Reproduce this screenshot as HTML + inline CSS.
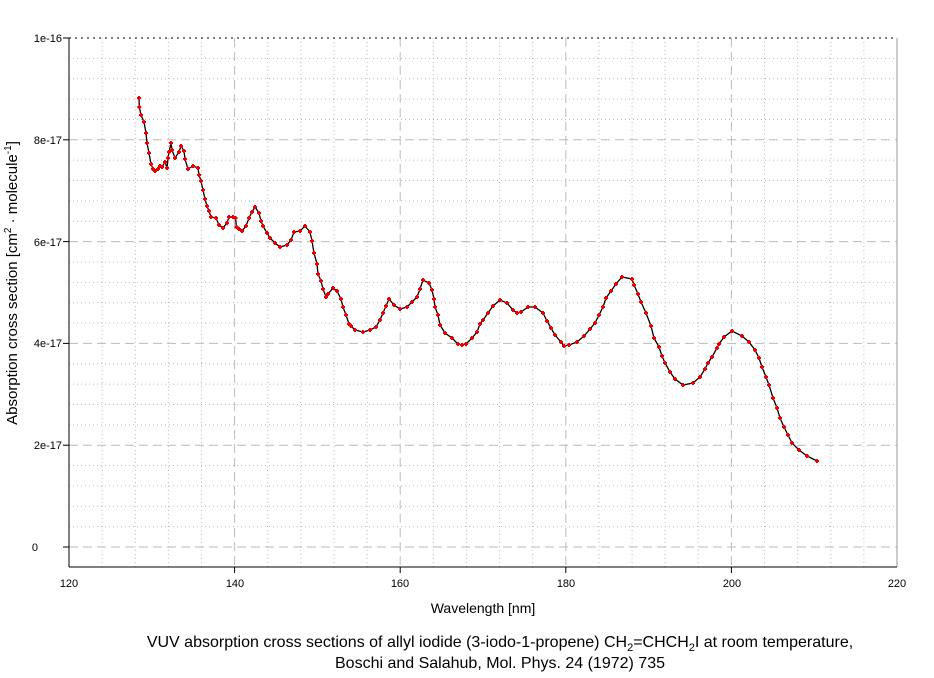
<!DOCTYPE html>
<html><head><meta charset="utf-8"><style>
body{margin:0;background:#fff;width:934px;height:673px;overflow:hidden}
svg text{font-family:"Liberation Sans",Arial,sans-serif;fill:#000}
</style></head><body>
<svg width="934" height="673" xmlns="http://www.w3.org/2000/svg">
<g id="grid"></g>
<line x1="69" y1="38" x2="897" y2="38" stroke="#000" stroke-dasharray="2,4"/>
<line x1="897" y1="38" x2="897" y2="567" stroke="#999"/>
<line x1="69" y1="38" x2="69" y2="567" stroke="#000"/>
<line x1="69" y1="567" x2="897" y2="567" stroke="#000"/>
<g id="ticks" stroke="#000"></g>
<g font-size="11" text-anchor="end">
<text x="62" y="42">1e-16</text><text x="62" y="144">8e-17</text><text x="62" y="246">6e-17</text>
<text x="62" y="347">4e-17</text><text x="62" y="449">2e-17</text><text x="38" y="551">0</text>
</g>
<g font-size="11" text-anchor="middle">
<text x="69" y="587">120</text><text x="235" y="587">140</text><text x="400" y="587">160</text>
<text x="566" y="587">180</text><text x="732" y="587">200</text><text x="897" y="587">220</text>
<text x="483" y="613" font-size="14">Wavelength [nm]</text>
<text x="500" y="647" font-size="16">VUV absorption cross sections of allyl iodide (3-iodo-1-propene) CH<tspan font-size="11" dy="4">2</tspan><tspan dy="-4">=CHCH</tspan><tspan font-size="11" dy="4">2</tspan><tspan dy="-4">I at room temperature,</tspan></text>
<text x="500" y="668" font-size="16">Boschi and Salahub, Mol. Phys. 24 (1972) 735</text>
</g>
<text font-size="15" text-anchor="middle" transform="translate(17,283) rotate(-90)">Absorption cross section [cm<tspan font-size="10" dy="-6">2</tspan><tspan dy="6"> · molecule</tspan><tspan font-size="10" dy="-6">-1</tspan><tspan dy="6">]</tspan></text>
<polyline id="line" fill="none" stroke="#000" stroke-width="1.3"/>
<g id="marks" fill="#e00"></g>
</svg>
<script>
var ns="http://www.w3.org/2000/svg",g=document.getElementById('grid'),t=document.getElementById('ticks');
function L(p,x1,y1,x2,y2,s,d){var l=document.createElementNS(ns,'line');l.setAttribute('x1',x1);l.setAttribute('y1',y1);l.setAttribute('x2',x2);l.setAttribute('y2',y2);l.setAttribute('stroke',s);if(d)l.setAttribute('stroke-dasharray',d);p.appendChild(l);}
for(var i=1;i<25;i++){var x=69+i*828/25;var maj=i%5==0;L(g,x,38,x,567,'#bbb',maj?'9,5':'1,3');if(maj)L(t,x,567,x,573,'#000');}
for(var i=0;i<25;i++){var y=547-i*509/25;var maj=i%5==0;L(g,69,y,897,y,'#bbb',maj?'9,5':'1,3');if(maj)L(t,63,y,69,y,'#000');}
L(t,63,38,69,38,'#000');
var P=[[139,98],[139.3,107],[141,115],[144,122],[146,133],[147,143],[149,153],[151,164],[153,169],[155,171],[158,169],[160,166],[162,167],[165,162],[167,168],[168,158],[169,152],[171,143],[172,150],[175,158],[179,152],[181,146],[184,151],[185,159],[188,169],[193,166],[198,168],[199,175],[201,181],[203,190],[205,199],[207,206],[209,211],[211,217],[216,218],[219,225],[223,228],[227,223],[229,217],[233,217],[235.5,218],[236.5,227],[239,229],[242,231],[246,226],[249,218],[252,212],[255,207],[259,213],[261,221],[263,226],[267,233],[270,238],[275,243],[280,247],[287,245],[291,240],[294,232],[300,231],[305,226],[310,232],[312,241],[314,253],[317,264],[318,274],[321,281],[323,289],[326,297],[328,294],[333,288],[337,291],[341,299],[343,307],[346,315],[349,324],[351,326],[355,330],[363,332],[370,330],[376,327],[380,320],[383,313],[386,306],[389,299],[394,305],[400,309],[407,307],[412,302],[417,297],[420,289],[423,280],[429,283],[432,290],[434,299],[435,307],[438,315],[440,325],[445,333],[452,338],[458,344],[462,345],[466,344],[472,338],[477,332],[480,324],[483,320],[488,313],[493,306],[500,300],[507,303],[513,310],[517,313],[521,312],[528,307],[535,307],[543,313],[547,321],[551,328],[555,335],[561,342],[564,346],[569,345],[577,342],[584,336],[590,329],[595,323],[599,315],[603,307],[606,298],[611,291],[616,284],[622,277],[632,279],[634,285],[638,294],[641,302],[646,313],[651,326],[654,338],[659,347],[662,356],[665,363],[670,372],[675,379],[683,385],[693,383],[700,377],[705,369],[708,363],[712,357],[717,348],[719,344],[724,337],[732,331],[742,336],[749,342],[755,350],[759,358],[762,367],[766,377],[769,385],[773,398],[777,408],[780,418],[784,427],[788,435],[792,443],[799,450],[807,456],[817,461]];
document.getElementById('line').setAttribute('points',P.map(function(p){return p.join(',')}).join(' '));
var m=document.getElementById('marks');
P.forEach(function(p){var r=document.createElementNS(ns,'path');r.setAttribute('d','M'+(p[0]-1)+','+(p[1]-2)+'h2v1h1v2h-1v1h-2v-1h-1v-2h1z');m.appendChild(r);});
</script>
</body></html>
